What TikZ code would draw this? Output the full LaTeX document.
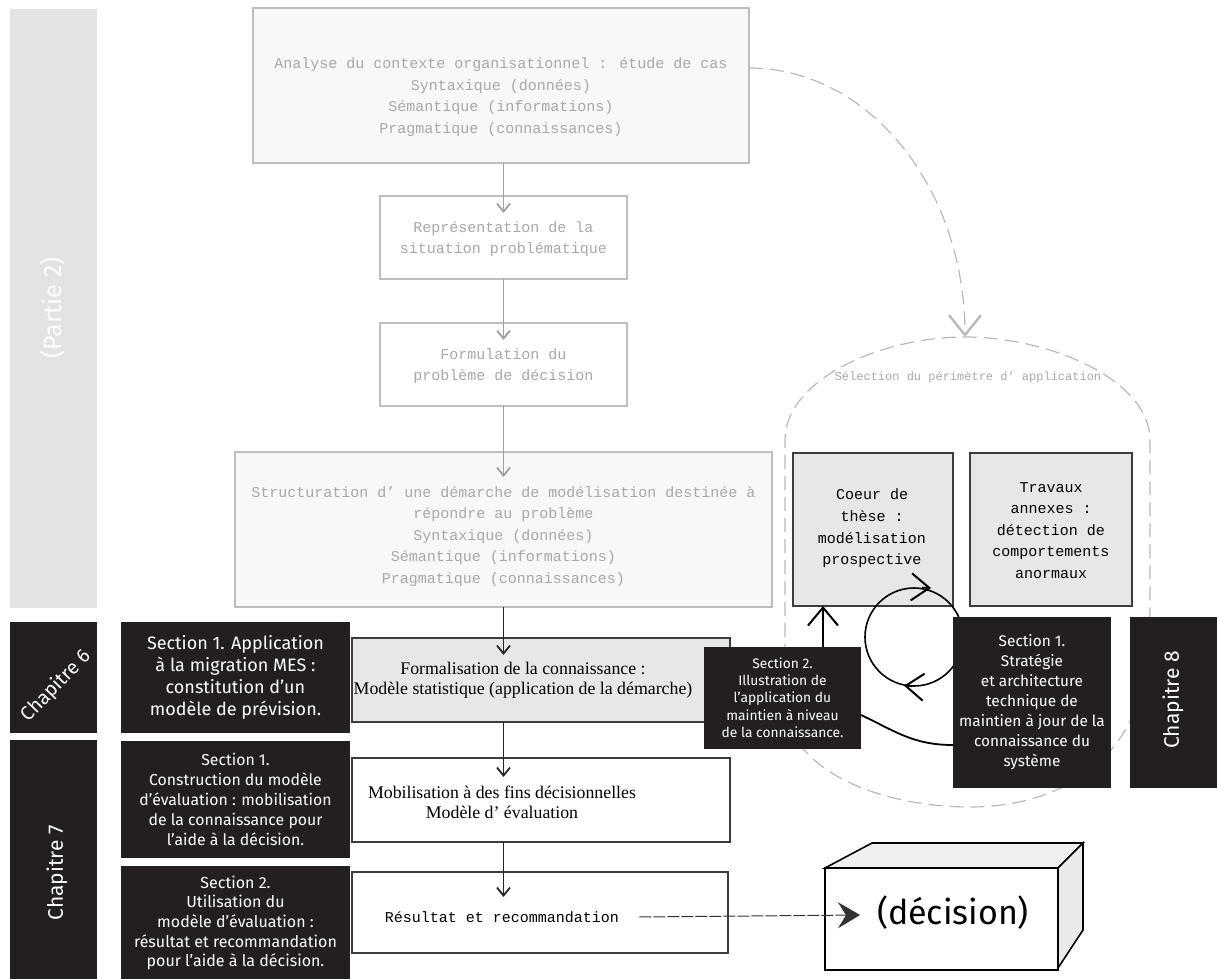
\documentclass[tikz,border=0pt]{standalone}
\usepackage{fontspec}
\setmainfont{Liberation Serif}
\newfontfamily\monof{Liberation Mono}
\newfontfamily\handf{Fira Sans}
\usetikzlibrary{arrows.meta,calc}
\definecolor{fadeline}{RGB}{190,190,190}
\definecolor{fadefill}{RGB}{248,248,248}
\definecolor{fadetxt}{RGB}{168,168,168}
\definecolor{fadearr}{RGB}{160,160,160}
\definecolor{barfill}{RGB}{227,227,227}
\definecolor{inkblack}{RGB}{35,31,32}
\definecolor{lightfill}{RGB}{231,231,231}
\definecolor{darkline}{RGB}{60,60,60}
\definecolor{dashgray}{RGB}{185,185,185}
\definecolor{topface}{RGB}{240,240,240}
\definecolor{sideface}{RGB}{234,234,234}
\tikzset{
  box/.style={inner sep=0pt, outer sep=0pt, line width=0.6pt},
  fadebox/.style={box, draw=fadeline, fill=fadefill},
  fadewhite/.style={box, draw=fadeline, fill=white},
  darkbox/.style={box, draw=darkline, fill=lightfill, line width=0.8pt},
  whitebox/.style={box, draw=darkline, fill=white, line width=0.7pt},
  inkbox/.style={box, fill=inkblack},
  grayband/.style={box, fill=barfill},
  fadetext/.style={text=fadetxt, font=\monof\fontsize{7.5}{10.8}\selectfont, align=center, inner sep=0pt},
  monotext/.style={text=black, font=\monof\fontsize{7.5}{10.8}\selectfont, align=center, inner sep=0pt},
  serftext/.style={text=black, font=\fontsize{8.9}{10}\selectfont, align=center, inner sep=0pt},
  handtext/.style={text=white, align=center, inner sep=0pt},
  fadearrow/.style={draw=fadearr, line width=0.5pt, -{Straight Barb[length=4pt,width=6.5pt,line width=0.9pt]}},
  inkarrow/.style={draw=black!85, line width=0.5pt, -{Straight Barb[length=4pt,width=6.5pt,line width=0.9pt]}},
  bigink/.style={draw=black, line width=0.8pt, -{Straight Barb[length=9pt,width=15pt,line width=1pt]}},
  loophead/.style={draw=black, line width=0.8pt, -{Straight Barb[length=9pt,width=13.5pt,line width=1pt]}},
  dashline/.style={draw=dashgray, line width=0.6pt, dash pattern=on 7pt off 3.5pt},
}
\begin{document}
\begin{tikzpicture}[x=0.5pt,y=-0.5pt]
\useasboundingbox (0,0) rectangle (1217,979);

% ---------- selection dome (behind) ----------
\draw[dashline] (785,700) -- (785,440) .. controls (785,380) and (880,337) .. (965,337)
  .. controls (1050,337) and (1150,380) .. (1150,440) -- (1150,640)
  .. controls (1145,760) and (1060,807) .. (970,807)
  .. controls (880,807) and (785,770) .. (785,700);
\coordinate (seltop) at (965,337);
\node[fadetext, font=\monof\fontsize{6}{7}\selectfont] (selt) at (968,377) {Sélection du périmètre d’ application};

% ---------- left bands ----------
\node[grayband, minimum width=43.5pt, minimum height=299.5pt] (partie) at (53.5,308.5) {};
\node[handtext, rotate=90, font=\handf\fontsize{12.5}{14}\selectfont] (partiet) at (53,308) {(Partie 2)};
\node[inkbox, minimum width=43.5pt, minimum height=55.5pt] (ch6) at (53.5,677.5) {};
\node[handtext, rotate=46, font=\handf\fontsize{9.8}{11}\selectfont] (ch6t) at (56,686) {Chapitre 6};
\node[inkbox, minimum width=43.5pt, minimum height=119.5pt] (ch7) at (53.5,859.5) {};
\node[handtext, rotate=90, font=\handf\fontsize{10.5}{12}\selectfont] (ch7t) at (57,873) {Chapitre 7};

% ---------- main column ----------
\node[fadebox, minimum width=248pt, minimum height=77.5pt] (b1) at (501,85.5) {};
\node[fadetext] (b1t) at (501,97) {Analyse du contexte organisationnel : étude de cas\\Syntaxique (données)\\Sémantique (informations)\\Pragmatique (connaissances)};
\node[fadewhite, minimum width=123.5pt, minimum height=41.5pt] (b2) at (503.5,237.5) {};
\node[fadetext] (b2t) at (503.5,239) {Représentation de la\\situation problématique};
\node[fadewhite, minimum width=123.5pt, minimum height=41.5pt] (b3) at (503.5,364.5) {};
\node[fadetext] (b3t) at (503.5,366) {Formulation du\\problème de décision};
\node[fadebox, minimum width=268.5pt, minimum height=77.5pt] (b4) at (503.5,529.5) {};
\node[fadetext] (b4t) at (503.5,536.5) {Structuration d’ une démarche de modélisation destinée à\\répondre au problème\\Syntaxique (données)\\Sémantique (informations)\\Pragmatique (connaissances)};
\node[darkbox, minimum width=189pt, minimum height=42pt] (b5) at (541,680) {};
\node[serftext] (b5t) at (523,680) {Formalisation de la connaissance :\\Modèle statistique (application de la démarche)};
\node[whitebox, minimum width=189pt, minimum height=42pt] (b6) at (541,800) {};
\node[serftext] (b6t) at (502,802) {Mobilisation à des fins décisionnelles\\Modèle d’ évaluation};
\node[whitebox, minimum width=188pt, minimum height=40.5pt] (b7) at (540,912.5) {};
\node[monotext] (b7t) at (502,917) {Résultat et recommandation};

\draw[fadearrow] (b1.south -| b2.north) -- ($(b2.north)+(0,-8.5pt)$);
\draw[fadearrow] (b2.south) -- ($(b3.north)+(0,-8.5pt)$);
\draw[fadearrow] (b3.south) -- ($(b4.north -| b3.south)+(0,-12.5pt)$);
\draw[inkarrow] (b4.south -| b3.south) -- ($(b5.north -| b3.south)+(0,-8.5pt)$);
\draw[inkarrow] (b5.south -| b3.south) -- ($(b6.north -| b3.south)+(0,-9.5pt)$);
\draw[inkarrow] (b6.south -| b3.south) -- ($(b7.north -| b3.south)+(0,-12.5pt)$);

% ---------- section boxes ----------
\node[inkbox, minimum width=114.5pt, minimum height=55.5pt] (s61) at (235.5,677.5) {};
\node[handtext, font=\handf\fontsize{9}{11}\selectfont] (s61t) at (235.5,677.5) {Section 1. Application\\à la migration MES :\\constitution d’un\\modèle de prévision.};
\node[inkbox, minimum width=114.5pt, minimum height=58.5pt] (s71) at (235.5,799.5) {};
\node[handtext, font=\handf\fontsize{7.9}{10}\selectfont] (s71t) at (235.5,799.5) {Section 1.\\Construction du modèle\\d’évaluation : mobilisation\\de la connaissance pour\\l’aide à la décision.};
\node[inkbox, minimum width=114.5pt, minimum height=56.5pt] (s72) at (235.5,922.5) {};
\node[handtext, font=\handf\fontsize{8}{9.8}\selectfont] (s72t) at (235.5,923) {Section 2.\\Utilisation du\\modèle d’évaluation :\\résultat et recommandation\\pour l’aide à la décision.};

% ---------- dashed curve to selection ----------
\draw[dashline, -{Straight Barb[length=10pt,width=16pt,line width=1.2pt]}] ([yshift=8.75pt]b1.east) .. controls (869,68) and (965,188) .. (seltop);

% ---------- right part ----------
\node[darkbox, minimum width=80pt, minimum height=76.5pt] (coeur) at (873,529.5) {};
\node[monotext] (coeurt) at (872,528.5) {Coeur de\\thèse :\\modélisation\\prospective};
\node[darkbox, minimum width=81pt, minimum height=76.5pt] (trav) at (1051,529.5) {};
\node[monotext] (travt) at (1051,530.5) {Travaux\\annexes :\\détection de\\comportements\\anormaux};

\node[inkbox, minimum width=78.5pt, minimum height=51pt] (s82) at (782.5,698) {};
\node[handtext, font=\handf\fontsize{6.9}{8.6}\selectfont] (s82t) at (782.5,697.5) {Section 2.\\Illustration de\\l’application du\\maintien à niveau\\de la connaissance.};
\draw[bigink] ([xshift=20.25pt]s82.north) -- ([xshift=-25pt]coeur.south);

% loop
\draw[black, line width=0.8pt] (914,637) circle [radius=24.5pt];
\draw[loophead] (922,587.5) -- (931,588);
\draw[loophead] (912,686.3) -- (904,685.7);

\node[inkbox, minimum width=79pt, minimum height=85.5pt] (s81) at (1032,702.5) {};
\node[handtext, font=\handf\fontsize{7.7}{10}\selectfont] (s81t) at (1032,702.5) {Section 1.\\Stratégie\\et architecture\\technique de\\maintien à jour de la\\connaissance du\\système};
\node[inkbox, minimum width=43.5pt, minimum height=85.5pt] (ch8) at (1173.5,702.5) {};
\node[handtext, rotate=90, font=\handf\fontsize{10.5}{12}\selectfont] (ch8t) at (1173,700) {Chapitre 8};

\draw[black, line width=0.9pt] ([yshift=-8.5pt]s82.east) .. controls +(17pt,-8pt) and +(-20pt,0pt) .. ([yshift=-21.25pt]s81.west);

% ---------- decision cube ----------
\draw[black, line width=0.8pt, fill=topface] (825,868) -- (872,843) -- (1083,843) -- (1058,868) -- cycle;
\draw[black, line width=0.8pt, fill=sideface] (1058,868) -- (1083,843) -- (1083,930) -- (1058,968) -- cycle;
\node[box, draw=black, line width=0.8pt, fill=white, minimum width=116.5pt, minimum height=51pt] (dec) at (941.5,919) {};
\node[font=\handf\fontsize{17}{20}\selectfont, inner sep=0pt] (dect) at (953,913) {(décision)};
\coordinate (dectip) at (860,915);
\draw[draw=black!80, line width=0.5pt, dash pattern=on 6pt off 1pt, -{Stealth[length=11pt,width=13pt,inset=4pt]}] ([xshift=10pt]b7t.east) -- (dectip);
\end{tikzpicture}
\end{document}
